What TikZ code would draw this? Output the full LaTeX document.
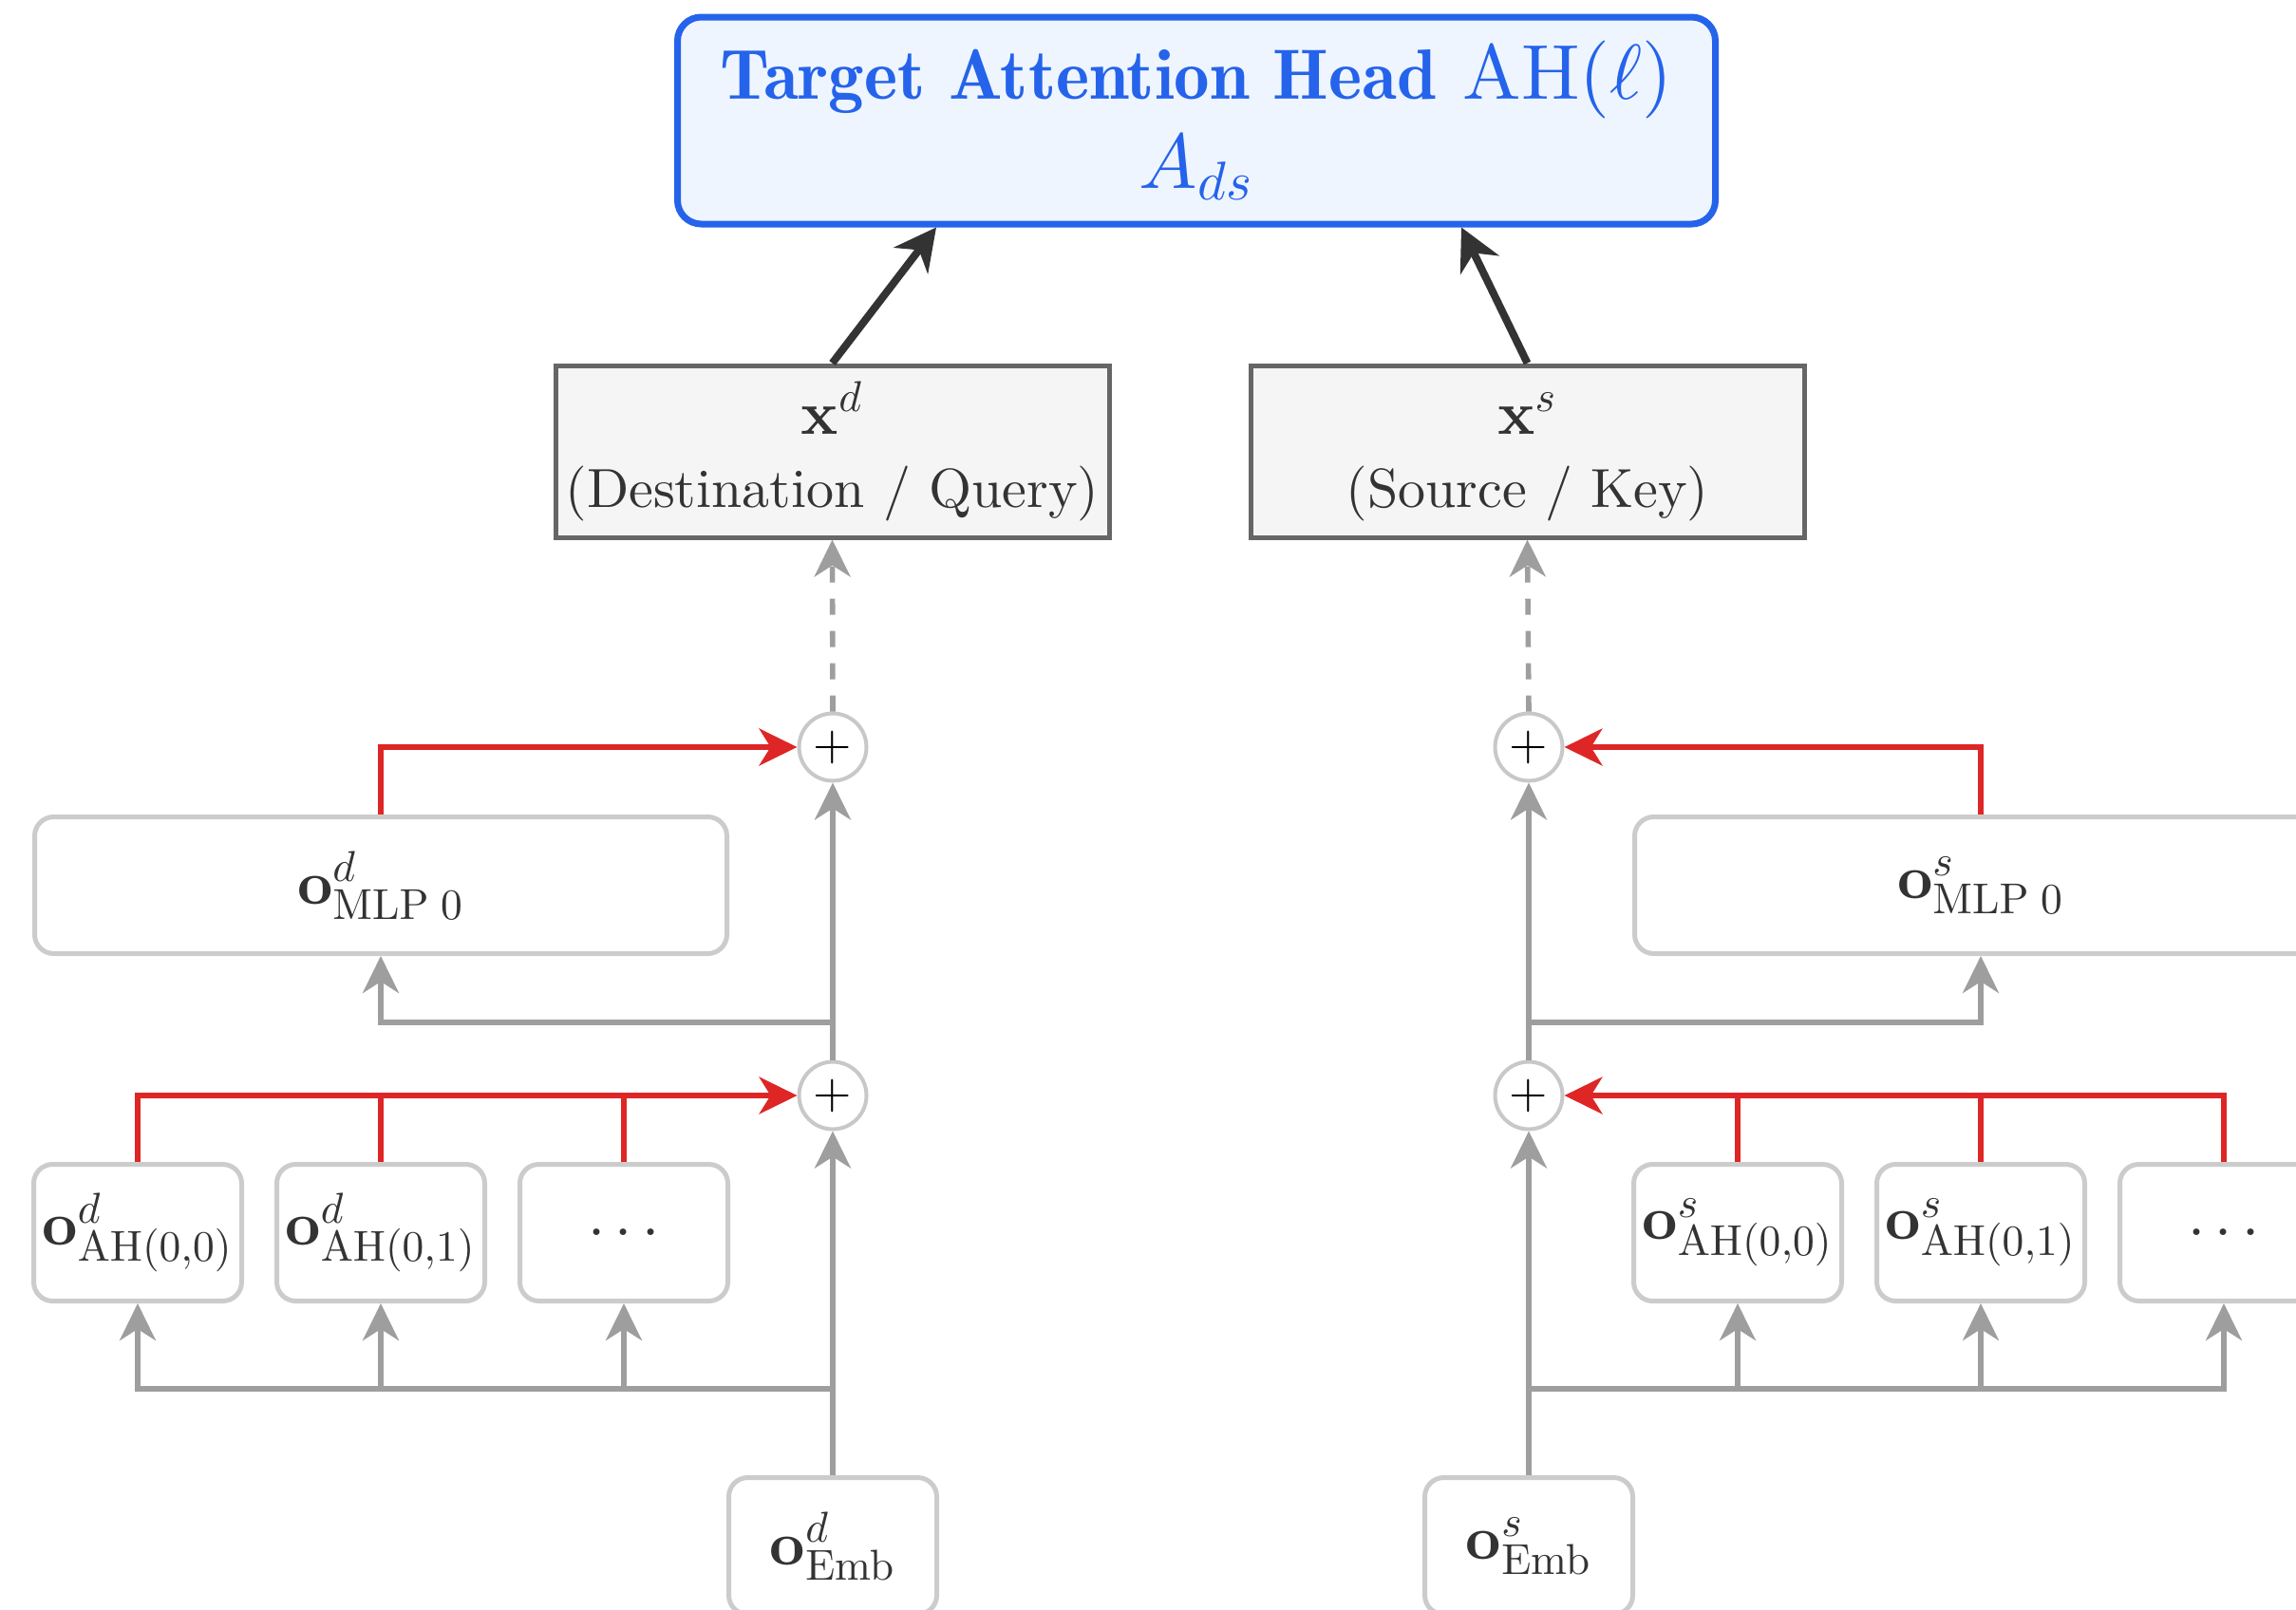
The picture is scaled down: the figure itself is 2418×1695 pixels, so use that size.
\RequirePackage{fix-cm}
\documentclass[tikz,border=0pt]{standalone}
\usetikzlibrary{arrows.meta}
% use 10pt design sizes at every size (heavier, tighter, like the reference)
\DeclareFontFamily{TU}{lmten}{}
\DeclareFontShape{TU}{lmten}{m}{n}{<->"[lmroman10-regular]:+tlig;"}{}
\DeclareFontShape{TU}{lmten}{bx}{n}{<->"[lmroman10-bold]:+tlig;"}{}
\DeclareFontShape{TU}{lmten}{b}{n}{<->ssub*lmten/bx/n}{}
\renewcommand\rmdefault{lmten}
\DeclareFontShape{OT1}{cmr}{m}{n}{<->cmr10}{}
\DeclareFontShape{OT1}{cmr}{bx}{n}{<->cmbx10}{}
\DeclareFontShape{OT1}{cmr}{b}{n}{<->cmb10}{}
\DeclareFontShape{OML}{cmm}{m}{it}{<->cmmi10}{}
\DeclareFontShape{OMS}{cmsy}{m}{n}{<->cmsy10}{}
\newcommand\titlebold{\fontencoding{OT1}\fontfamily{cmr}\fontseries{b}\fontshape{n}\fontsize{18.75}{23.5}\selectfont}
\definecolor{tblue}{RGB}{37,99,235}
\definecolor{tfill}{RGB}{238,245,254}
\definecolor{xfill}{RGB}{245,245,245}
\definecolor{xborder}{RGB}{102,102,102}
\definecolor{lightb}{RGB}{204,204,204}
\definecolor{circb}{RGB}{200,200,200}
\definecolor{conn}{RGB}{158,158,158}
\definecolor{redl}{RGB}{222,38,38}
\definecolor{dark}{RGB}{51,51,51}
\begin{document}
\begin{tikzpicture}[x=0.25pt,y=-0.25pt,
  gbox/.style={draw=lightb, line width=1.25pt, rounded corners=5pt, fill=white,
    minimum height=36pt, inner sep=0pt, text=dark, font=\fontsize{16.25}{19}\selectfont},
  ahbox/.style={gbox, minimum width=54.75pt},
  mlpbox/.style={gbox, minimum width=182.25pt},
  xbox/.style={draw=xborder, fill=xfill, line width=1.25pt, minimum width=145.75pt,
    minimum height=45.25pt, align=center, text=dark, inner sep=0pt,
    font=\fontsize{14.5}{19.25}\selectfont},
  topbox/.style={draw=tblue, fill=tfill, line width=1.75pt, rounded corners=6.25pt,
    minimum width=273.25pt, minimum height=54.5pt, align=center, text=tblue, inner sep=0pt,
    font=\fontsize{20.5}{23.5}\selectfont},
  sumnode/.style={circle, draw=circb, line width=1pt, fill=white, minimum size=17.75pt,
    inner sep=0pt, font=\fontsize{13}{13}\selectfont},
  gline/.style={draw=conn, line width=1.4pt},
  garrow/.style={gline, -{Stealth[length=9.75pt,width=9.5pt,inset=3pt]}},
  gdash/.style={garrow, dash pattern=on 4.25pt off 4.25pt},
  rline/.style={draw=redl, line width=1.3pt},
  rarrow/.style={rline, -{Stealth[length=10pt,width=9.75pt,inset=3pt]}},
  karrow/.style={draw=dark, line width=2pt, -{Stealth[length=11pt,width=11.25pt,inset=3.5pt]}}
]
\useasboundingbox (0,0) rectangle (2418,1695);
\clip (0,0) rectangle (2418,1695);

% top target box
\node[topbox] (top) at (1260,127)
  {{\titlebold Target Attention Head} $\mathrm{AH}(\ell)$\\ $A_{ds}$};

% x boxes
\node[xbox] (xd) at (876.5,475.5)
  {{\fontsize{16.25}{19.25}\selectfont$\mathbf{x}^{d}$}\\(Destination / Query)};
\node[xbox] (xs) at (1608.5,475.5)
  {{\fontsize{16.25}{19.25}\selectfont$\mathbf{x}^{s\vphantom{d}}$}\\(Source / Key)};

% sum nodes
\node[sumnode] (pdU) at (877,787) {$+$};
\node[sumnode] (pdL) at (877,1154) {$+$};
\node[sumnode] (psU) at (1610,787) {$+$};
\node[sumnode] (psL) at (1610,1154) {$+$};

% MLP boxes
\node[mlpbox] (mlpd) at (401,932.5) {$\mathbf{o}^{d}_{\mathrm{MLP}\mskip 5mu 0}$};
\node[mlpbox] (mlps) at (2086,932.5) {$\mathbf{o}^{s}_{\mathrm{MLP}\mskip 5mu 0}$};

% attention head boxes
\node[ahbox] (ahd1) at (145,1298.5) {$\mathbf{o}^{d}_{\mathrm{AH}(0,0)}$};
\node[ahbox] (ahd2) at (401,1298.5) {$\mathbf{o}^{d}_{\mathrm{AH}(0,1)}$};
\node[ahbox] (ahd3) at (657,1298.5) {\raisebox{-1.2pt}{$\ldots$}};
\node[ahbox] (ahs1) at (1830,1298.5) {$\mathbf{o}^{s}_{\mathrm{AH}(0,0)}$};
\node[ahbox] (ahs2) at (2086,1298.5) {$\mathbf{o}^{s}_{\mathrm{AH}(0,1)}$};
\node[ahbox] (ahs3) at (2342,1298.5) {\raisebox{-1.2pt}{$\ldots$}};

% embedding boxes
\node[ahbox] (embd) at (877,1628.5) {$\mathbf{o}^{d}_{\mathrm{Emb}}$};
\node[ahbox] (embs) at (1610,1628.5) {$\mathbf{o}^{s}_{\mathrm{Emb}}$};

% junction coordinates
\coordinate (jd) at (877,1463);
\coordinate (js) at (1610,1463);
\coordinate (kd) at (877,1077);
\coordinate (ks) at (1610,1077);
\coordinate (tl) at (986,0 |- top.south);
\coordinate (tr) at (1539,0 |- top.south);

% black arrows to target
\draw[karrow] (xd.north) -- (tl);
\draw[karrow] (xs.north) -- (tr);

% dashed arrows
\draw[gdash] (pdU.north) -- (xd.south);
\draw[gdash] (psU.north) -- (xs.south);

% destination side, gray
\draw[garrow] (embd.north) -- (pdL.south);
\draw[garrow] (jd) -| (ahd1.south);
\draw[garrow] (ahd2.south |- jd) -- (ahd2.south);
\draw[garrow] (ahd3.south |- jd) -- (ahd3.south);
\draw[garrow] (pdL.north) -- (pdU.south);
\draw[garrow] (kd) -| (mlpd.south);

% source side, gray
\draw[garrow] (embs.north) -- (psL.south);
\draw[garrow] (js) -| (ahs3.south);
\draw[garrow] (ahs1.south |- js) -- (ahs1.south);
\draw[garrow] (ahs2.south |- js) -- (ahs2.south);
\draw[garrow] (psL.north) -- (psU.south);
\draw[garrow] (ks) -| (mlps.south);

% red connections
\draw[rarrow] (mlpd.north) |- (pdU.west);
\draw[rarrow] (ahd1.north) |- (pdL.west);
\draw[rline] (ahd2.north) -- (ahd2.north |- pdL.west);
\draw[rline] (ahd3.north) -- (ahd3.north |- pdL.west);
\draw[rarrow] (mlps.north) |- (psU.east);
\draw[rarrow] (ahs3.north) |- (psL.east);
\draw[rline] (ahs1.north) -- (ahs1.north |- psL.east);
\draw[rline] (ahs2.north) -- (ahs2.north |- psL.east);
\end{tikzpicture}
\end{document}
